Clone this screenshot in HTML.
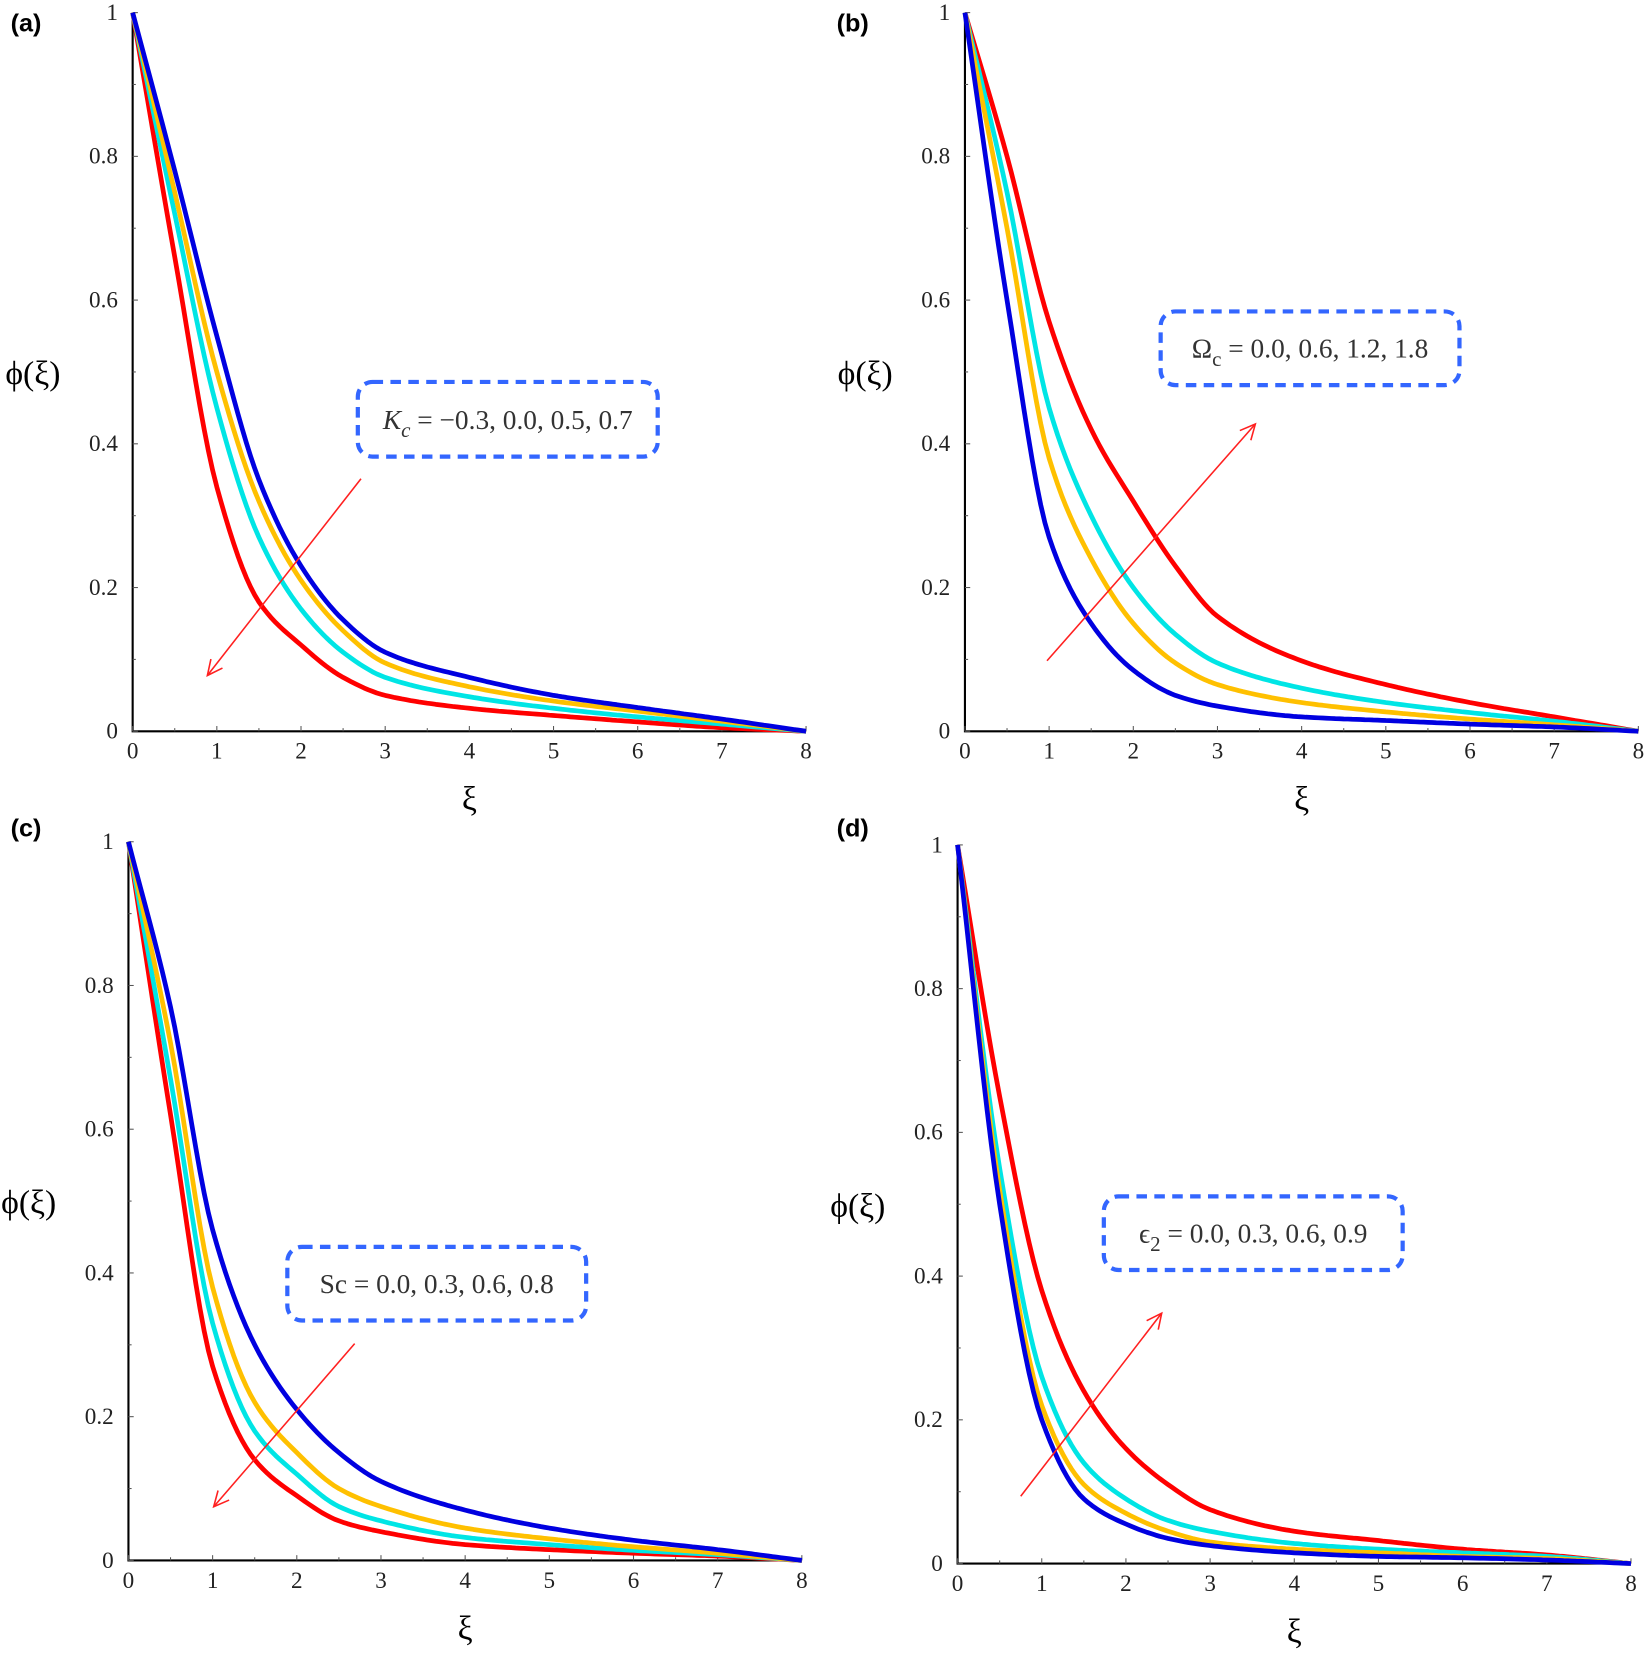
<!DOCTYPE html>
<html><head><meta charset="utf-8"><style>
html,body{margin:0;padding:0;background:#fff}
svg{display:block}
text{font-family:"Liberation Serif",serif}
</style></head><body>
<svg id="fig" width="1650" height="1653" viewBox="0 0 1568 1571" xmlns="http://www.w3.org/2000/svg"></svg>
<script>
const xs = [0,0.5,1,1.5,2,2.5,3,4,5,6,7,8];
const xTicks = ["0","1","2","3","4","5","6","7","8"];
const yTicks = ["0","0.2","0.4","0.6","0.8","1"];
const colors = ["#ff0000","#00e5e5","#ffc000","#0000e0"];
const seriesNames = ["red","cyan","yellow","blue"];
const aRed = [1,0.66,0.34,0.18,0.12,0.075,0.05,0.032,0.022,0.013,0.005,0];
const aCyan = [1,0.72,0.45,0.27,0.17,0.11,0.075,0.048,0.032,0.02,0.01,0];
const aYellow = [1,0.75,0.5,0.32,0.21,0.14,0.095,0.062,0.042,0.028,0.014,0];
const aBlue = [1,0.78,0.55,0.35,0.23,0.155,0.11,0.075,0.05,0.033,0.017,0];
const bRed = [1,0.8,0.57,0.42,0.32,0.23,0.16,0.098,0.065,0.04,0.02,0];
const bCyan = [1,0.75,0.45,0.3,0.2,0.135,0.095,0.06,0.04,0.026,0.014,0];
const bYellow = [1,0.7,0.38,0.24,0.15,0.095,0.065,0.04,0.027,0.017,0.009,0];
const bBlue = [1,0.6,0.27,0.15,0.085,0.05,0.035,0.02,0.015,0.01,0.006,0];
const cRed = [1,0.62,0.27,0.14,0.09,0.055,0.04,0.022,0.015,0.01,0.006,0];
const cCyan = [1,0.67,0.33,0.18,0.12,0.075,0.055,0.032,0.022,0.014,0.008,0];
const cYellow = [1,0.72,0.38,0.22,0.15,0.1,0.075,0.045,0.03,0.019,0.01,0];
const cBlue = [1,0.77,0.46,0.3,0.21,0.15,0.11,0.07,0.045,0.028,0.015,0];
const dRed = [1,0.65,0.38,0.24,0.16,0.11,0.075,0.045,0.032,0.02,0.012,0];
const dCyan = [1,0.55,0.26,0.14,0.09,0.06,0.045,0.028,0.02,0.015,0.01,0];
const dYellow = [1,0.52,0.22,0.11,0.07,0.045,0.03,0.02,0.015,0.01,0.007,0];
const dBlue = [1,0.5,0.2,0.09,0.055,0.035,0.025,0.015,0.01,0.008,0.005,0];

const NS="http://www.w3.org/2000/svg";
const svg=document.getElementById('fig');
function mk(tag,attrs,parent){const e=document.createElementNS(NS,tag);for(const k in attrs)e.setAttribute(k,attrs[k]);(parent||svg).appendChild(e);return e;}
// monotone cubic (Fritsch-Carlson) in data space
function monotone(x,y){
 const n=x.length,d=[],m=new Array(n);
 for(let i=0;i<n-1;i++)d.push((y[i+1]-y[i])/(x[i+1]-x[i]));
 m[0]=d[0];m[n-1]=d[n-2];
 for(let i=1;i<n-1;i++){
  if(d[i-1]*d[i]<=0)m[i]=0;
  else{const h0=x[i]-x[i-1],h1=x[i+1]-x[i];const w1=2*h1+h0,w2=h1+2*h0;m[i]=(w1+w2)/(w1/d[i-1]+w2/d[i]);}
 }
 return t=>{
  let i=0;while(i<n-2&&t>x[i+1])i++;
  const h=x[i+1]-x[i],s=(t-x[i])/h,s2=s*s,s3=s2*s;
  return (2*s3-3*s2+1)*y[i]+(s3-2*s2+s)*h*m[i]+(-2*s3+3*s2)*y[i+1]+(s3-s2)*h*m[i+1];
 };
}

const panels=[
 {id:'a',x0:126,x8:766,y0:695,y1:12,lx:10,ly:30,data:[aRed,aCyan,aYellow,aBlue],box:[340,363,625,434],lab:'K',sub:'c',rest:' = −0.3, 0.0, 0.5, 0.7',it:true,arr:[343,455,197,642]},
 {id:'b',x0:917,x8:1557,y0:695,y1:12,lx:795,ly:30,data:[bRed,bCyan,bYellow,bBlue],box:[1103,296,1387,366],lab:'Ω',sub:'c',rest:' = 0.0, 0.6, 1.2, 1.8',it:false,arr:[995,628,1193,403]},
 {id:'c',x0:122,x8:762,y0:1483,y1:800,lx:10,ly:795,data:[cRed,cCyan,cYellow,cBlue],box:[273,1185,557,1255],lab:'Sc',sub:'',rest:' = 0.0, 0.3, 0.6, 0.8',it:false,arr:[337,1277,203,1432]},
 {id:'d',x0:910,x8:1550,y0:1486,y1:803,lx:795,ly:795,data:[dRed,dCyan,dYellow,dBlue],box:[1049,1137,1333,1207],lab:'ϵ',sub:'2',rest:' = 0.0, 0.3, 0.6, 0.9',it:false,arr:[970,1422,1104,1248]}
];
panels.forEach(p=>{
 const g=mk('g',{});
 
 
 const X=v=>p.x0+(p.x8-p.x0)*v/8, Y=v=>p.y0-(p.y0-p.y1)*v;
 const t=mk('text',{x:p.lx,y:p.ly,'font-size':24,'font-weight':'bold',style:'font-family:Liberation Sans,sans-serif'},g);t.textContent='('+p.id+')';
 
 const ax=mk('path',{d:`M${p.x0},${p.y1} V${p.y0} H${p.x8}`,stroke:'#000','stroke-width':2,fill:'none'},g);
 
 for(let i=0;i<=16;i++){const x=X(i/2);mk('line',{x1:x,y1:p.y0,x2:x,y2:p.y0-(i%2?3:5),stroke:'#555','stroke-width':1},g);}
 for(let i=0;i<=10;i++){const y=Y(i/10);mk('line',{x1:p.x0,y1:y,x2:p.x0+(i%2?3:5),y2:y,stroke:'#555','stroke-width':1},g);}
 xTicks.forEach(s=>{const e=mk('text',{x:X(+s),y:p.y0+26,'font-size':22,'text-anchor':'middle',fill:'#222'},g);e.textContent=s;
  });
 yTicks.forEach(s=>{const e=mk('text',{x:p.x0-14,y:Y(+s)+7,'font-size':22,'text-anchor':'end',fill:'#222'},g);e.textContent=s;
  });
 const xl=mk('text',{x:(p.x0+p.x8)/2,y:p.y0+75,'font-size':32,'text-anchor':'middle'},g);xl.textContent='ξ';
 
 const yl=mk('text',{x:p.x0-121,y:(p.y0+p.y1)/2+12,'font-size':32},g);yl.textContent='ϕ(ξ)';
 
 p.data.forEach((arr,k)=>{
  const f=monotone(xs,arr);
  let d='';
  for(let j=0;j<=160;j++){const xv=8*j/160;d+=(j?'L':'M')+X(xv).toFixed(1)+','+Y(f(xv)).toFixed(1);}
  const l=mk('path',{d:d,stroke:colors[k],'stroke-width':4.5,fill:'none','stroke-linejoin':'round'},g);
  
 });
 const [bx1,by1,bx2,by2]=p.box;
 const r=mk('rect',{x:bx1,y:by1,width:bx2-bx1,height:by2-by1,rx:14,fill:'#fff',stroke:'#3366ff','stroke-width':4,'stroke-dasharray':'10,7'},g);
 
 const tx=mk('text',{x:(bx1+bx2)/2,y:(by1+by2)/2+9,'font-size':26,'text-anchor':'middle',fill:'#333'},g);
 
 const s1=mk('tspan',{'font-style':p.it?'italic':'normal'},tx);s1.textContent=p.lab;
 if(p.sub){const s2=mk('tspan',{dy:8,'font-size':20,'font-style':p.it?'italic':'normal'},tx);s2.textContent=p.sub;
  const s3=mk('tspan',{dy:-8},tx);s3.textContent=p.rest;}
 else{const s3=mk('tspan',{},tx);s3.textContent=p.rest;}
 const [ax1,ay1,ax2,ay2]=p.arr;
 const ar=mk('line',{x1:ax1,y1:ay1,x2:ax2,y2:ay2,stroke:'#ff2020','stroke-width':1.5},g);
 
 const ang=Math.atan2(ay2-ay1,ax2-ax1),L=16;
 const h=mk('path',{d:`M${ax2-L*Math.cos(ang-0.45)},${ay2-L*Math.sin(ang-0.45)} L${ax2},${ay2} L${ax2-L*Math.cos(ang+0.45)},${ay2-L*Math.sin(ang+0.45)}`,stroke:'#ff2020','stroke-width':1.5,fill:'none'},g);
 
});
</script>
</body></html>
